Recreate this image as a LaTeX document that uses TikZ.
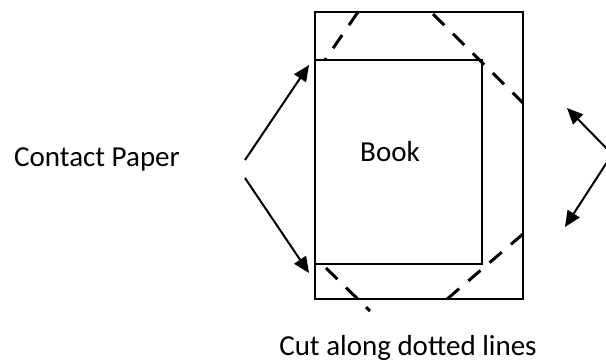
\documentclass[tikz,border=0pt]{standalone}
\usepackage{fontspec}
\setmainfont{Carlito}
\usetikzlibrary{arrows.meta}
\begin{document}
\begin{tikzpicture}[x=1pt,y=-1pt,
  frame/.style={draw=black,line width=1.4pt,inner sep=0pt,outer sep=0pt},
  pointer/.style={line width=2pt,-{Triangle[length=16pt,width=14pt]}},
  cutline/.style={line width=3pt,dash pattern=on 16pt off 12pt},
  lbl/.style={font=\fontsize{29}{34}\selectfont,inner sep=0pt}]
\useasboundingbox (0,0) rectangle (606,364);
% outer contact paper and book
\node[frame,minimum width=208pt,minimum height=287pt,anchor=north west] (paper) at (315,12) {};
\node[frame,minimum width=167pt,minimum height=204pt,anchor=north west] (book) at (315,60) {};
\node[lbl] (booklbl) at (390,152) {Book};
\node[lbl] (cp) at (97,159) {Contact Paper};
\node[lbl] (cut) at (408,348) {Cut along dotted lines};
% arrow end points
\coordinate (l1) at (245,160);
\coordinate (l2) at (245,178);
\coordinate (t1) at (309,65);
\coordinate (t2) at (309,273);
\coordinate (r1) at (612,154);
\coordinate (r2) at (611,156);
\coordinate (t3) at (567,108);
\coordinate (t4) at (565,227);
\draw[pointer] (l1) -- (t1);
\draw[pointer] (l2) -- (t2);
\draw[pointer] (r1) -- (t3);
\draw[pointer] (r2) -- (t4);
% dashed cut lines
\coordinate (a1) at (358,12);
\coordinate (a2) at (325,60);
\coordinate (b1) at (433,14);
\coordinate (b2) at (523,103);
\coordinate (c1) at (523,234);
\coordinate (c2) at (446,300);
\coordinate (d1) at (326,268);
\coordinate (d2) at (370,311);
\draw[cutline] (a1) -- (a2);
\draw[cutline] (b1) -- (b2);
\draw[cutline] (c1) -- (c2);
\draw[cutline] (d1) -- (d2);
\end{tikzpicture}
\end{document}
